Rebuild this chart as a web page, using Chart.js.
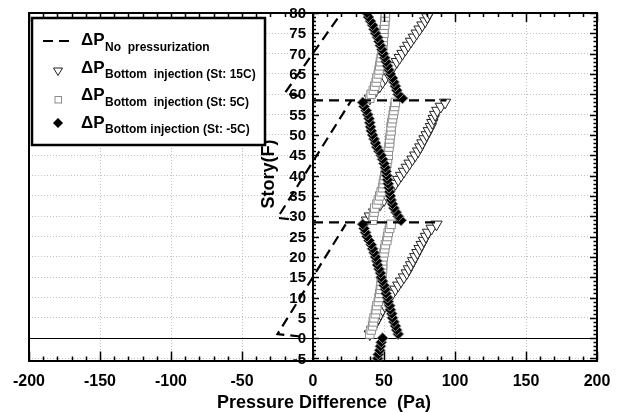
<!DOCTYPE html>
<html>
<head>
<meta charset="utf-8">
<script src="https://cdn.jsdelivr.net/npm/chart.js@4.4.0/dist/chart.umd.min.js"></script>
<style>
  html, body { margin: 0; padding: 0; background: #fff; }
  #wrap { width: 622px; height: 412px; position: relative; }
</style>
</head>
<body>
<div id="wrap"><canvas id="chart"></canvas></div>
<script>
const FONT = '"Liberation Sans", Arial, Helvetica, sans-serif';

// story levels (F)
const stories = [
  -5, -4, -3, -2, -1, 0,
  1, 2, 3, 4, 5, 6, 7, 8, 9, 10, 11, 12, 13, 14, 15, 16, 17, 18, 19, 20, 21, 22, 23, 24, 25, 26, 27, 28,
  29, 30, 31, 32, 33, 34, 35, 36, 37, 38, 39, 40, 41, 42, 43, 44, 45, 46, 47, 48, 49, 50, 51, 52, 53, 54, 55, 56, 57, 58,
  59, 60, 61, 62, 63, 64, 65, 66, 67, 68, 69, 70, 71, 72, 73, 74, 75, 76, 77, 78, 79, 80
];

// pressure difference (Pa), bottom injection, supply temp 15C
const inject15C = [
  null, null, null, null, null, null,
  40, 41.5, 43, 44.5, 46, 47.5, 49, 50.5, 52, 54, 56, 58, 60, 62, 64, 66, 67.5, 69, 70.5, 72, 73.5, 75, 76.5, 78, 79.5, 81, 83.5, 87,
  38, 40, 43, 45, 47.5, 50, 52, 54, 56, 58, 60, 62, 64, 66, 68, 70, 72, 74, 75.5, 77, 78.5, 80, 81.5, 83, 84, 85, 86, 87.5, 90, 93,
  40, 42, 44.5, 47, 49, 51, 53, 55, 57, 59, 61, 63, 65, 67, 69, 71, 73, 75, 77, 79, 80.5, 82
];

// supply temp 5C
const inject5C = [
  null, null, null, null, null, null,
  40, 41, 42, 42.5, 43, 44, 44.5, 45, 46, 46.5, 47, 47.5, 48, 48, 48.5, 48.5, 49, 49, 49, 49.5, 50, 50.5, 51, 52, 52.5, 53, 54, 55,
  42, 42.5, 43, 43.5, 45, 46, 47, 48, 49, 49.5, 50, 50.5, 51, 51.5, 52, 52.5, 53, 53, 53.5, 54, 54, 54.5, 55, 55, 55.5, 56, 56.5, 57, 57.5, 58,
  40, 41, 42.5, 43.5, 44.5, 45, 46, 46.5, 47, 47.5, 48, 48.5, 49, 49, 49.5, 49.5, 50, 50, 50.5, 50.5, 51, 51
];

// supply temp -5C
const injectMinus5C = [
  45.5, 46, 47, 47.5, 48, 49,
  60, 59, 58, 57, 56, 55.5, 54.5, 54, 53, 52.5, 51.5, 51, 50, 49, 48, 47.5, 46.5, 45.5, 45, 44, 43, 42, 41, 39.5, 38, 37, 36, 35,
  62, 60, 58.5, 57, 56, 55, 54.5, 54, 53.5, 53, 52.5, 52, 51.5, 51, 50, 49, 48, 46.5, 45, 44, 43, 42, 41, 40.5, 40, 39.5, 38.5, 37.5, 36, 35,
  63, 60, 59, 58, 57, 56, 54.5, 53.5, 52.5, 51.5, 50.5, 49.5, 48.5, 47.5, 46.5, 45.5, 44, 43, 42, 40.5, 39, 38
];

// no pressurization (dashed), null = break between zones
const noPressStory = [0.4, 1, 28, null, 29.3, 29.6, 58.5, null, 59.6, 60.2, 80];
const noPressValue = [-9, -25, 23, null, -17, -25, 27, null, -10, -20, 20];

// horizontal dashed lines at the refuge floors
const refugeStory = [28.5, 28.5, null, 58.5, 58.5];
const refugeValue = [0, 87, null, 0, 94];

const xTicks = [-200, -150, -100, -50, 0, 50, 100, 150, 200];
const yTicks = [-5, 0, 5, 10, 15, 20, 25, 30, 35, 40, 45, 50, 55, 60, 65, 70, 75, 80];

const xTitle = 'Pressure Difference  (Pa)';
const yTitle = 'Story(F)';
const legendMain = '\u0394P';
const legendSubs = [
  'No  pressurization',
  'Bottom  injection (St: 15C)',
  'Bottom  injection (St: 5C)',
  'Bottom injection (St: -5C)'
];

const toPoints = (vals) => stories
  .map((s, i) => ({ x: vals[i], y: s }))
  .filter(p => p.x !== null);

function segments(ys, xs) {
  const out = [];
  let cur = [];
  ys.forEach((y, i) => {
    if (y === null) { out.push(cur); cur = []; }
    else cur.push({ x: xs[i], y: y });
  });
  out.push(cur);
  return out;
}

const dashed = {
  showLine: true,
  borderColor: '#000',
  borderWidth: 2.2,
  borderDash: [10, 6],
  pointRadius: 0,
  fill: false,
  order: 0
};

const datasets = [
  ...segments(noPressStory, noPressValue).map(d => ({ ...dashed, data: d })),
  ...segments(refugeStory, refugeValue).map(d => ({ ...dashed, data: d })),
  {
    data: toPoints(injectMinus5C),
    pointStyle: 'rectRot',
    pointRadius: 5.5,
    backgroundColor: '#000',
    borderColor: '#8a8a8a',
    borderWidth: 1,
    order: 1
  },
  {
    data: toPoints(inject5C),
    pointStyle: 'rect',
    pointRadius: 6,
    backgroundColor: '#fff',
    borderColor: '#8c8c8c',
    borderWidth: 1,
    order: 2
  },
  {
    data: toPoints(inject15C),
    pointStyle: 'triangle',
    rotation: 180,
    pointRadius: 6.5,
    backgroundColor: '#fff',
    borderColor: '#222',
    borderWidth: 1,
    order: 3
  }
];

const frame = {
  id: 'frame',
  beforeDatasetsDraw(chart) {
    const { ctx, chartArea: a, scales: { x, y } } = chart;
    const x0 = x.getPixelForValue(0);
    ctx.save();
    // solid zero line
    const y0 = Math.round(y.getPixelForValue(0)) + 0.5;
    ctx.strokeStyle = '#000';
    ctx.lineWidth = 1;
    ctx.beginPath();
    ctx.moveTo(a.left, y0);
    ctx.lineTo(a.right, y0);
    ctx.stroke();
    // y tick labels beside the centre axis
    ctx.fillStyle = '#000';
    ctx.font = `bold 15px ${FONT}`;
    ctx.textAlign = 'right';
    ctx.textBaseline = 'middle';
    yTicks.forEach(v => ctx.fillText(String(v), x0 - 7, y.getPixelForValue(v) + 1));
    // x title
    ctx.font = `bold 18px ${FONT}`;
    ctx.textAlign = 'center';
    ctx.fillText(xTitle, 324, 403);
    // y title
    ctx.translate(269, 174);
    ctx.rotate(-Math.PI / 2);
    ctx.fillText(yTitle, 0, 0);
    ctx.restore();
  },
  afterDatasetsDraw(chart) {
    const { ctx, chartArea: a, scales: { x, y } } = chart;
    const x0 = x.getPixelForValue(0);
    ctx.save();
    ctx.strokeStyle = '#000';
    ctx.lineWidth = 2;
    ctx.beginPath();
    ctx.moveTo(a.left, a.bottom);
    ctx.lineTo(a.left, a.top);
    ctx.lineTo(a.right, a.top);
    ctx.lineTo(a.right, a.bottom);
    ctx.stroke();

    ctx.lineWidth = 1.5;
    ctx.beginPath();
    for (let v = -200; v <= 200; v += 10) {
      const px = Math.round(x.getPixelForValue(v)) + 0.5;
      const len = v % 50 === 0 ? 9 : 4;
      ctx.moveTo(px, a.bottom); ctx.lineTo(px, a.bottom - len);
      ctx.moveTo(px, a.top); ctx.lineTo(px, a.top + len);
    }
    for (let s = -5; s <= 80; s++) {
      const py = Math.round(y.getPixelForValue(s)) + 0.5;
      const major = s % 5 === 0;
      ctx.moveTo(a.right, py); ctx.lineTo(a.right - (major ? 7 : 3.5), py);
      ctx.moveTo(x0, py); ctx.lineTo(x0 + (major ? 6 : 3), py);
    }
    ctx.stroke();
    ctx.restore();
  },
  afterDraw(chart) {
    const ctx = chart.ctx;
    ctx.save();
    // legend box
    ctx.fillStyle = '#fff';
    ctx.fillRect(32, 18, 233, 127);
    ctx.strokeStyle = '#000';
    ctx.lineWidth = 2.5;
    ctx.strokeRect(32, 18, 233, 127);

    const rows = [45, 72.5, 100, 127.5];
    const sx = 58;
    // dashed sample
    ctx.lineWidth = 2.2;
    ctx.setLineDash([10, 6]);
    ctx.beginPath();
    ctx.moveTo(43, rows[0] - 4);
    ctx.lineTo(70, rows[0] - 4);
    ctx.stroke();
    ctx.setLineDash([]);
    // triangle
    ctx.lineWidth = 1;
    ctx.strokeStyle = '#222';
    ctx.beginPath();
    ctx.moveTo(sx - 4.5, rows[1] - 4.5);
    ctx.lineTo(sx + 4.5, rows[1] - 4.5);
    ctx.lineTo(sx, rows[1] + 3);
    ctx.closePath();
    ctx.stroke();
    // square
    ctx.strokeStyle = '#8c8c8c';
    ctx.strokeRect(sx - 3, rows[2] - 3.5, 6.5, 6.5);
    // diamond
    ctx.fillStyle = '#000';
    ctx.strokeStyle = '#777';
    ctx.beginPath();
    ctx.moveTo(sx, rows[3] - 9.5);
    ctx.lineTo(sx + 5, rows[3] - 4.5);
    ctx.lineTo(sx, rows[3] + 0.5);
    ctx.lineTo(sx - 5, rows[3] - 4.5);
    ctx.closePath();
    ctx.fill();
    ctx.stroke();

    ctx.fillStyle = '#000';
    ctx.textAlign = 'left';
    ctx.textBaseline = 'alphabetic';
    rows.forEach((b, i) => {
      ctx.font = `bold 17px ${FONT}`;
      ctx.fillText(legendMain, 81, b);
      ctx.font = `bold 12px ${FONT}`;
      ctx.fillText(legendSubs[i], 105, b + 5.5);
    });
    ctx.restore();
  }
};

const gridColor = (ctx, edges) => {
  const v = ctx.tick ? ctx.tick.value : null;
  return edges.includes(v) ? 'rgba(0,0,0,0)' : '#c2c2c2';
};

new Chart(document.getElementById('chart'), {
  type: 'scatter',
  data: { datasets },
  options: {
    responsive: true,
    maintainAspectRatio: false,
    animation: false,
    events: [],
    layout: { padding: { left: 29, right: 25, top: 13, bottom: 10.3 } },
    plugins: { legend: { display: false }, tooltip: { enabled: false } },
    scales: {
      x: {
        type: 'linear',
        min: -200,
        max: 200,
        afterBuildTicks: (scale) => { scale.ticks = xTicks.map(v => ({ value: v })); },
        ticks: {
          color: '#000',
          padding: 11,
          maxRotation: 0,
          autoSkip: false,
          font: { family: FONT, size: 16, weight: 'bold' }
        },
        grid: {
          color: (ctx) => gridColor(ctx, [-200, 0, 200]),
          lineWidth: 1,
          drawTicks: false
        },
        border: { display: true, color: '#000', width: 2, dash: [1, 2] }
      },
      y: {
        type: 'linear',
        position: { x: 0 },
        min: -5.5,
        max: 80,
        afterBuildTicks: (scale) => { scale.ticks = yTicks.map(v => ({ value: v })); },
        ticks: { display: false },
        grid: {
          color: (ctx) => gridColor(ctx, [0, 80]),
          lineWidth: 1,
          drawTicks: false
        },
        border: { display: true, color: '#000', width: 2, dash: [1, 2] }
      }
    }
  },
  plugins: [frame]
});
</script>
</body>
</html>
